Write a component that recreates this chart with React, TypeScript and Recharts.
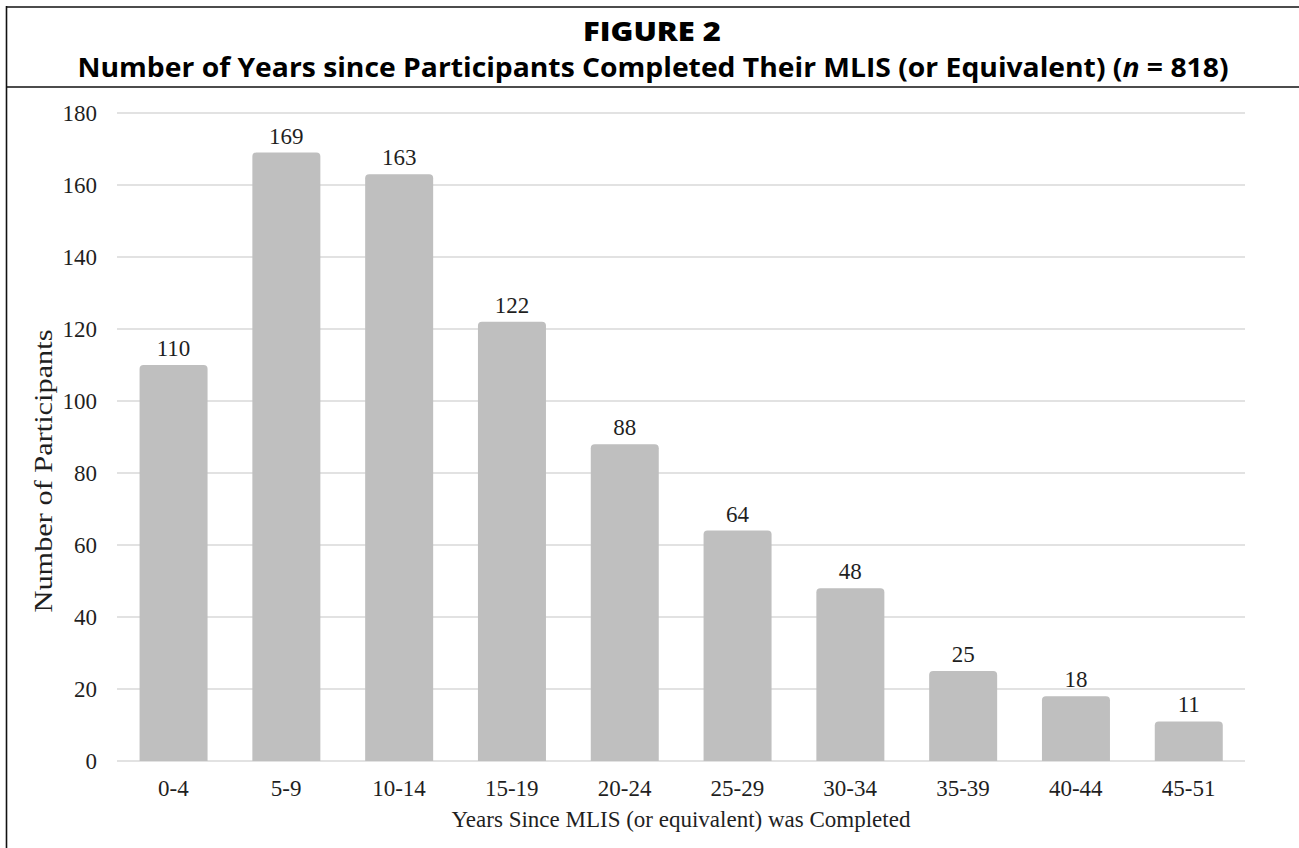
import { BarChart, Bar, XAxis, YAxis, CartesianGrid, LabelList, Label } from 'recharts'

const categories = ['0-4', '5-9', '10-14', '15-19', '20-24', '25-29', '30-34', '35-39', '40-44', '45-51']
const participants = [110, 169, 163, 122, 88, 64, 48, 25, 18, 11]
const yTicks = [0, 20, 40, 60, 80, 100, 120, 140, 160, 180]

const data = categories.map((c, i) => ({ name: c, value: participants[i] }))

const SERIF = '"Liberation Serif", "Times New Roman", serif'
const SANS = '"Open Sans", "Noto Sans", sans-serif'
const INK = '#1f1f1f'

export default function App() {
  return (
    <div style={{ position: 'absolute', left: 0, top: 0, width: 1299, height: 848, background: '#fff' }}>
      <BarChart
        width={1299}
        height={848}
        data={data}
        margin={{ top: 113, right: 54, left: 0, bottom: 0 }}
        barCategoryGap="20%"
      >
        <CartesianGrid vertical={false} stroke="#d9d9d9" strokeWidth={1.5} />
        <XAxis
          dataKey="name"
          height={87}
          axisLine={false}
          tickLine={false}
          tickSize={0}
          tickMargin={19}
          interval={0}
          tick={{ fontSize: 23, fill: INK, fontFamily: SERIF }}
        >
          <Label
            content={() => (
              <text x={681} y={827} textAnchor="middle" fontSize={23} fill={INK} fontFamily={SERIF}>
                Years Since MLIS (or equivalent) was Completed
              </text>
            )}
          />
        </XAxis>
        <YAxis
          width={117}
          domain={[0, 180]}
          ticks={yTicks}
          axisLine={false}
          tickLine={false}
          tickSize={0}
          tickMargin={20}
          tick={{ fontSize: 23, fill: INK, fontFamily: SERIF }}
        >
          <Label
            content={() => (
              <text
                x={52}
                y={471}
                transform="rotate(-90 52 471)"
                textAnchor="middle"
                fontSize={25}
                fill={INK}
                fontFamily={SERIF}
                textLength={283}
                lengthAdjust="spacingAndGlyphs"
              >
                Number of Participants
              </text>
            )}
          />
        </YAxis>
        <Bar dataKey="value" fill="#bfbfbf" radius={[4, 4, 0, 0]} isAnimationActive={false}>
          <LabelList
            dataKey="value"
            position="top"
            offset={9}
            style={{ fontSize: 23, fill: INK, fontFamily: SERIF }}
          />
        </Bar>
      </BarChart>

      <svg
        width={1299}
        height={848}
        style={{ position: 'absolute', left: 0, top: 0, pointerEvents: 'none' }}
      >
        <line x1={6.5} y1={7} x2={1299} y2={7} stroke="#111" strokeWidth={1.6} />
        <line x1={6.5} y1={87} x2={1299} y2={87} stroke="#111" strokeWidth={1.6} />
        <line x1={6.5} y1={6} x2={6.5} y2={848} stroke="#111" strokeWidth={1.6} />
        <text
          x={652}
          y={41}
          textAnchor="middle"
          fontSize={26}
          fontWeight={800}
          fontFamily={SANS}
          fill="#000"
          textLength={138}
          lengthAdjust="spacingAndGlyphs"
        >
          FIGURE 2
        </text>
        <text
          x={653}
          y={77}
          textAnchor="middle"
          fontSize={26}
          fontWeight={700}
          fontFamily={SANS}
          fill="#000"
          textLength={1151}
          lengthAdjust="spacingAndGlyphs"
        >
          Number of Years since Participants Completed Their MLIS (or Equivalent) (
          <tspan fontStyle="italic">n</tspan> = 818)
        </text>
      </svg>
    </div>
  )
}
